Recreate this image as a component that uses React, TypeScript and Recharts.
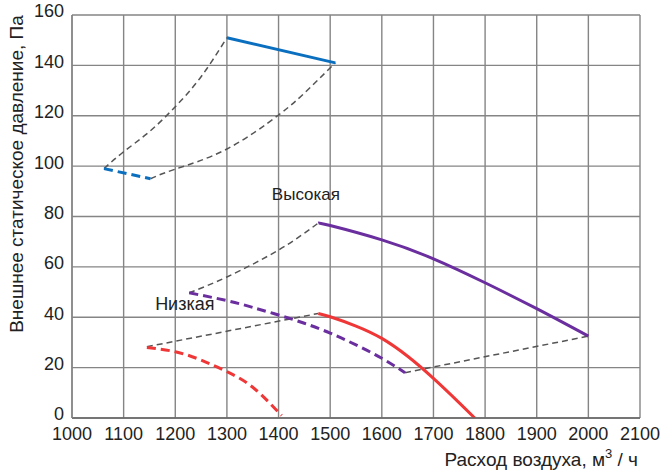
import { LineChart, Line, XAxis, YAxis, CartesianGrid, ReferenceDot } from 'recharts'

type Pt = { x: number; y: number }

const xTicks = [1000, 1100, 1200, 1300, 1400, 1500, 1600, 1700, 1800, 1900, 2000, 2100]
const yTicks = [0, 20, 40, 60, 80, 100, 120, 140, 160]
const xGrid = [
    1000, 1050, 1100, 1150, 1200, 1250, 1300, 1350, 1400, 1450, 1500, 1550,
    1600, 1650, 1700, 1750, 1800, 1850, 1900, 1950, 2000, 2050, 2100,
]

// blue fan
const blueSolid: Pt[] = [{ x: 1300, y: 151 }, { x: 1510, y: 141 }]
const blueDashed: Pt[] = [{ x: 1062, y: 99 }, { x: 1152, y: 95 }]
const blueUpper: Pt[] = [
    { x: 1062, y: 99 }, { x: 1100, y: 105.7 }, { x: 1150, y: 113.7 },
    { x: 1200, y: 123.6 }, { x: 1250, y: 135.5 }, { x: 1300, y: 151 },
]
const blueLower: Pt[] = [
    { x: 1152, y: 95 }, { x: 1200, y: 98.8 }, { x: 1300, y: 106.8 },
    { x: 1400, y: 120.3 }, { x: 1450, y: 129 }, { x: 1510, y: 141 },
]

// purple ("Высокая")
const purpleSolid: Pt[] = [
    { x: 1477, y: 77.4 }, { x: 1500, y: 76.4 }, { x: 1600, y: 70.7 }, { x: 1700, y: 63.2 },
    { x: 1800, y: 53.7 }, { x: 1900, y: 43.4 }, { x: 2000, y: 32.5 },
]
const purpleDashed: Pt[] = [
    { x: 1227, y: 49.7 }, { x: 1300, y: 46.6 }, { x: 1350, y: 43.9 }, { x: 1400, y: 40.9 },
    { x: 1450, y: 37.6 }, { x: 1500, y: 33.7 }, { x: 1550, y: 29 }, { x: 1600, y: 23.7 },
    { x: 1645, y: 18 },
]
const purpleLeft: Pt[] = [
    { x: 1227, y: 49.7 }, { x: 1300, y: 56 }, { x: 1400, y: 66.7 }, { x: 1477, y: 77.4 },
]
const purpleRight: Pt[] = [{ x: 1645, y: 18 }, { x: 2000, y: 32.5 }]

// red ("Низкая")
const redSolid: Pt[] = [
    { x: 1477, y: 41.5 }, { x: 1500, y: 40.2 }, { x: 1550, y: 36.5 }, { x: 1600, y: 31.6 },
    { x: 1650, y: 24.5 }, { x: 1700, y: 15.7 }, { x: 1750, y: 6 }, { x: 1780, y: 0 },
]
const redDashed: Pt[] = [
    { x: 1145, y: 28 }, { x: 1200, y: 26.3 }, { x: 1250, y: 23 },
    { x: 1300, y: 18.4 }, { x: 1350, y: 12.2 }, { x: 1406, y: 1 },
]
const redLink: Pt[] = [{ x: 1145, y: 28.3 }, { x: 1477, y: 41.5 }]

const font = '"Liberation Sans", Arial, sans-serif'
const gray = '#555'

const dashProps = { stroke: gray, strokeWidth: 1.5, strokeDasharray: '6 4', dot: false, isAnimationActive: false }

export default function App() {
    return (
        <div style={{ position: 'absolute', left: 0, top: 0, fontFamily: font }}>
            <LineChart width={672} height={472} margin={{ top: 15, right: 32, left: 0, bottom: 24 }}>
                <CartesianGrid stroke="#858585" strokeWidth={1.4} verticalValues={xGrid} horizontalValues={yTicks} />
                <XAxis
                    type="number"
                    dataKey="x"
                    domain={[1000, 2100]}
                    ticks={xTicks}
                    height={30}
                    allowDataOverflow
                    tickLine={false}
                    tickSize={0}
                    tickMargin={9}
                    axisLine={{ stroke: '#666', strokeWidth: 1.5 }}
                    tick={{ fill: '#222', fontSize: 18, fontFamily: font }}
                    label={{
                        content: () => (
                            <text x={638} y={466} textAnchor="end" fill="#222" fontSize={19} fontFamily={font}>
                                Расход воздуха, м<tspan dy={-8} fontSize={13}>3</tspan><tspan dy={8}> / ч</tspan>
                            </text>
                        ),
                    }}
                />
                <YAxis
                    type="number"
                    dataKey="y"
                    domain={[0, 160]}
                    ticks={yTicks}
                    width={72}
                    allowDataOverflow
                    tickLine={false}
                    tickSize={0}
                    tickMargin={8}
                    axisLine={{ stroke: '#858585', strokeWidth: 1.4 }}
                    tick={{ fill: '#222', fontSize: 18, fontFamily: font, dy: -4 }}
                    label={{
                        content: () => (
                            <text
                                x={23}
                                y={174}
                                transform="rotate(-90 23 174)"
                                textAnchor="middle"
                                fill="#222"
                                fontSize={19}
                                fontFamily={font}
                            >
                                Внешнее статическое давление, Па
                            </text>
                        ),
                    }}
                />

                <Line data={blueUpper} dataKey="y" type="natural" {...dashProps} />
                <Line data={blueLower} dataKey="y" type="natural" {...dashProps} />
                <Line data={purpleLeft} dataKey="y" type="natural" {...dashProps} />
                <Line data={purpleRight} dataKey="y" type="linear" {...dashProps} />
                <Line data={redLink} dataKey="y" type="linear" {...dashProps} />

                <Line data={blueSolid} dataKey="y" type="linear" stroke="#0b6fbf" strokeWidth={3} dot={false} isAnimationActive={false} />
                <Line data={blueDashed} dataKey="y" type="linear" stroke="#0b6fbf" strokeWidth={3} strokeDasharray="9 5" dot={false} isAnimationActive={false} />
                <Line data={purpleSolid} dataKey="y" type="natural" stroke="#6a2e9e" strokeWidth={3} dot={false} isAnimationActive={false} />
                <Line data={purpleDashed} dataKey="y" type="natural" stroke="#6a2e9e" strokeWidth={3} strokeDasharray="9 5" dot={false} isAnimationActive={false} />
                <Line data={redSolid} dataKey="y" type="natural" stroke="#f03737" strokeWidth={3} dot={false} isAnimationActive={false} />
                <Line data={redDashed} dataKey="y" type="natural" stroke="#f03737" strokeWidth={3} strokeDasharray="9 5" dot={false} isAnimationActive={false} />

                <ReferenceDot
                    x={1387}
                    y={88.9}
                    r={0}
                    label={{ value: 'Высокая', position: 'right', offset: 0, fill: '#222', fontSize: 17, fontFamily: font }}
                />
                <ReferenceDot
                    x={1161}
                    y={45.6}
                    r={0}
                    label={{ value: 'Низкая', position: 'right', offset: 0, fill: '#222', fontSize: 18, fontFamily: font }}
                />
            </LineChart>
        </div>
    )
}
